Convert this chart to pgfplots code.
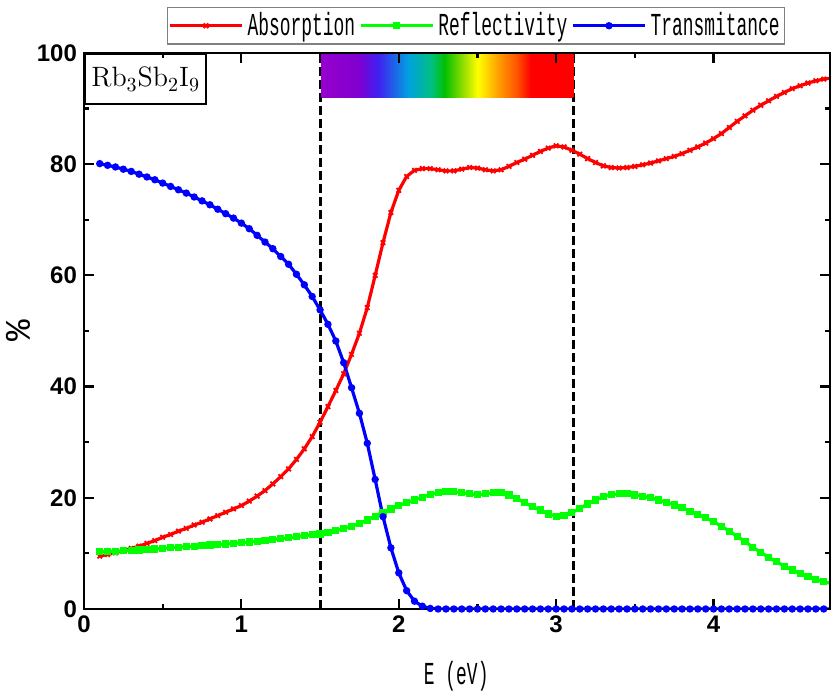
\documentclass[border=0pt]{standalone}
\usepackage{fontspec}
\setsansfont{Liberation Sans}
\newfontfamily\legfont[FakeStretch=0.56]{Liberation Mono}
\newfontfamily\pctfont{Liberation Mono}
\usepackage{pgfplots}
\pgfplotsset{compat=1.18}

% colours of the visible-light band
\definecolor{vio}{RGB}{150,0,204}
\definecolor{vio2}{RGB}{128,0,208}
\definecolor{bl}{RGB}{64,32,240}
\definecolor{cy}{RGB}{0,160,224}
\definecolor{tl}{RGB}{0,192,128}
\definecolor{gr}{RGB}{0,192,0}
\definecolor{yg}{RGB}{160,224,0}
\definecolor{ye}{RGB}{255,255,0}
\definecolor{orn}{RGB}{255,160,0}
\definecolor{ore}{RGB}{255,80,0}
\definecolor{rd}{RGB}{255,0,0}
\pgfdeclarehorizontalshading{visible}{100bp}{color(0bp)=(vio); color(25bp)=(vio);
  color(32.3bp)=(vio2); color(36.2bp)=(bl); color(42.2bp)=(cy); color(46.8bp)=(tl);
  color(49.4bp)=(gr); color(53.4bp)=(yg); color(56bp)=(ye); color(60bp)=(orn);
  color(63.9bp)=(ore); color(66.5bp)=(rd); color(100bp)=(rd)}

\pgfplotstableread{
E A R T
0.10 9.5 10.3 80.1
0.15 9.8 10.35 79.8
0.20 10.1 10.4 79.5
0.25 10.5 10.45 79.1
0.30 10.9 10.5 78.7
0.35 11.3 10.6 78.2
0.40 11.8 10.7 77.7
0.45 12.3 10.8 77.2
0.50 12.9 10.9 76.6
0.55 13.4 11.0 76.0
0.60 14.0 11.1 75.4
0.65 14.5 11.2 74.8
0.70 15.1 11.3 74.1
0.75 15.6 11.4 73.4
0.80 16.2 11.5 72.7
0.85 16.8 11.6 71.9
0.90 17.4 11.7 71.1
0.95 18.0 11.8 70.3
1.00 18.6 11.9 69.4
1.05 19.4 12.05 68.4
1.10 20.3 12.2 67.2
1.15 21.3 12.35 66.0
1.20 22.5 12.5 64.8
1.25 23.8 12.65 63.4
1.30 25.2 12.8 62.0
1.35 26.9 13.0 60.2
1.40 28.8 13.2 58.3
1.45 31.0 13.35 56.2
1.50 33.6 13.5 53.8
1.55 36.4 13.8 51.2
1.60 39.3 14.1 48.2
1.65 42.3 14.5 44.3
1.70 45.8 14.9 39.8
1.75 49.6 15.4 35.2
1.80 54.2 16.0 29.8
1.85 60.0 16.7 23.3
1.90 65.9 17.4 16.6
1.95 71.3 18.0 11.0
2.00 75.3 18.6 6.5
2.05 77.8 19.1 3.3
2.10 78.9 19.6 1.4
2.15 79.2 20.1 0.5
2.20 79.2 20.6 0.1
2.25 79.0 20.9 0
2.30 78.8 21.1 0
2.35 78.8 21.1 0
2.40 79.1 20.9 0
2.45 79.4 20.7 0
2.50 79.3 20.6 0
2.55 79.0 20.7 0
2.60 78.8 20.9 0
2.65 79.0 20.9 0
2.70 79.6 20.5 0
2.75 80.3 19.9 0
2.80 80.9 19.1 0
2.85 81.6 18.4 0
2.90 82.3 17.8 0
2.95 82.9 17.1 0
3.00 83.3 16.7 0
3.05 83.1 16.8 0
3.10 82.5 17.3 0
3.15 81.8 18.1 0
3.20 81.0 18.9 0
3.25 80.3 19.6 0
3.30 79.7 20.2 0
3.35 79.4 20.6 0
3.40 79.3 20.7 0
3.45 79.4 20.7 0
3.50 79.6 20.5 0
3.55 79.9 20.3 0
3.60 80.2 20.0 0
3.65 80.6 19.6 0
3.70 81.0 19.2 0
3.75 81.4 18.7 0
3.80 81.9 18.2 0
3.85 82.5 17.6 0
3.90 83.1 17.0 0
3.95 83.8 16.4 0
4.00 84.6 15.7 0
4.05 85.5 14.9 0
4.10 86.6 14.0 0
4.15 87.7 13.1 0
4.20 88.7 12.1 0
4.25 89.7 11.1 0
4.30 90.6 10.2 0
4.35 91.4 9.3 0
4.40 92.2 8.5 0
4.45 92.9 7.7 0
4.50 93.6 7.0 0
4.55 94.1 6.4 0
4.60 94.6 5.8 0
4.65 95.0 5.3 0
4.70 95.3 4.9 0
4.75 95.5 4.6 0
}\spectra

\begin{document}
\begin{tikzpicture}
\begin{axis}[
  scale only axis, width=373pt, height=278pt,
  xmin=0, xmax=4.74, ymin=0, ymax=100,
  xtick={0,1,2,3,4}, ytick={0,20,40,60,80,100},
  minor x tick num=1, minor y tick num=1,
  tick align=inside, xtick pos=both, ytick pos=both,
  xticklabel pos=lower, yticklabel pos=left,
  major tick length=5pt, minor tick length=2.5pt,
  axis line style={line width=1.3pt},
  tick style={black, line width=1.1pt},
  axis on top,
  /pgf/number format/assume math mode=true,
  ticklabel style={font=\sffamily\bfseries\fontsize{12}{14}\selectfont},
  xlabel={E (eV)}, ylabel={\%},
  xlabel style={font=\legfont\fontsize{16}{18}\selectfont,
    at={(axis description cs:0.499,-0.1205)}, anchor=center},
  ylabel style={font=\pctfont\fontsize{18}{20}\selectfont,
    at={(axis description cs:-0.0885,0.5)}, anchor=center},
  legend columns=3,
  legend style={at={(0.5255,1.015)}, anchor=south, draw=gray, line width=0.8pt,
    font=\legfont\fontsize{16}{18}\selectfont, inner sep=0.5pt,
    /tikz/every even column/.append style={column sep=0pt}},
  legend image code/.code={\draw[mark repeat=2,mark phase=2,#1]
    plot coordinates {(0pt,0pt) (18pt,0pt) (36pt,0pt)};},
]
% visible range boundaries
\addplot[black, line width=1.5pt, dash pattern=on 4.5pt off 2pt, forget plot]
  coordinates {(1.5,0) (1.5,100)};
\addplot[black, line width=1.5pt, dash pattern=on 4.5pt off 2pt, forget plot]
  coordinates {(3.11,0) (3.11,100)};
% visible spectrum band
\fill[shading=visible] (axis cs:1.51,92) rectangle (axis cs:3.11,100);

\addplot[red, line width=1.6pt, mark=x, mark size=1.6pt, mark options={line width=0.9pt}]
  table[x=E, y=A] {\spectra};
\addlegendentry{Absorption}
\addplot[green, line width=1.6pt, mark=square*, mark size=1pt]
  table[x=E, y=R] {\spectra};
\addlegendentry{Reflectivity}
\addplot[blue, line width=1.6pt, mark=*, mark size=1pt]
  table[x=E, y=T] {\spectra};
\addlegendentry{Transmitance}

\node[draw, line width=1.2pt, fill=white, anchor=north west, minimum width=60.5pt,
  minimum height=25pt, inner sep=0pt, font=\fontsize{14}{16}\selectfont]
  at (axis description cs:0,1) {Rb$_3$Sb$_2$I$_9$};
\end{axis}
\pgfresetboundingbox
\path ([shift={(-42pt,-42.5pt)}]current axis.south west) rectangle
      ([shift={(0.5pt,26.5pt)}]current axis.north east);
\end{tikzpicture}
\end{document}
